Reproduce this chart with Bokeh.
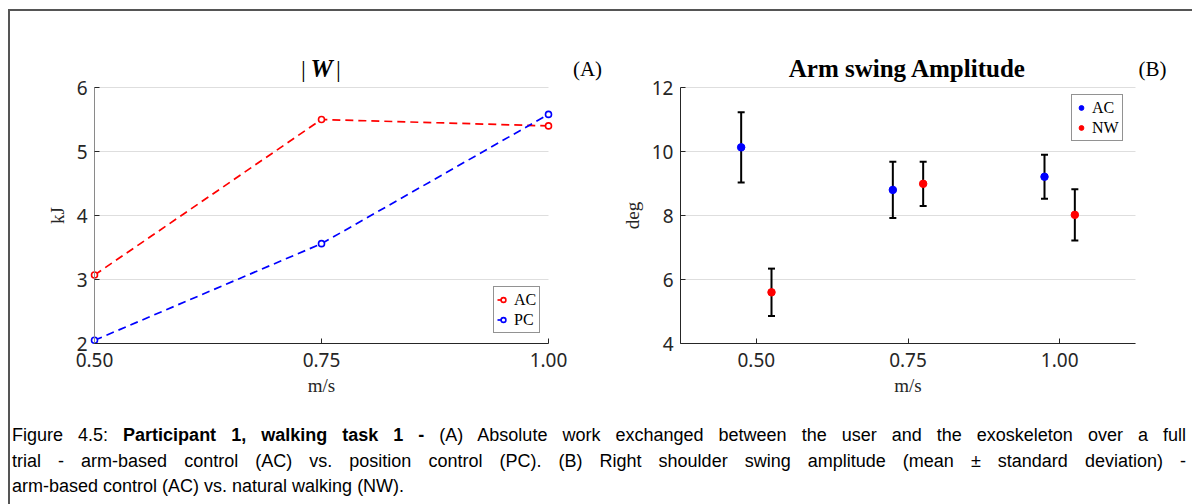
from bokeh.plotting import figure
from bokeh.layouts import row, column
from bokeh.models import (Range1d, FixedTicker, Label, Legend, LegendItem,
                          PrintfTickFormatter, Div)
from bokeh.embed import file_html
from bokeh.resources import INLINE

# ---------------- data ----------------
speeds = [0.50, 0.75, 1.00]
speed_ticks = [0.50, 0.75, 1.00]
work_ac = [3.07, 5.50, 5.40]
work_pc = [2.05, 3.56, 5.58]
work_ticks = [2, 3, 4, 5, 6]
amp_ac_mean = [10.13, 8.80, 9.21]
amp_ac_std = [1.10, 0.88, 0.69]
amp_nw_mean = [5.60, 8.99, 8.02]
amp_nw_std = [0.74, 0.69, 0.80]
amp_ticks = [4, 6, 8, 10, 12]
group_offset = 0.025

RED = "#ff0000"
BLUE = "#0000ff"
TXT = "#262626"
SERIF = "Liberation Serif"
SANS = "Noto Sans"


class Geo:
    """Maps canvas pixels <-> data so that the plot box sits where wanted."""
    def __init__(self, W, H, xv, xp, yv, yp):
        (x0, x1), (px0, px1) = xv, xp
        (ytop, ybot), (pt, pb) = yv, yp
        self.kx = (px1 - px0) / (x1 - x0)
        self.ky = (pb - pt) / (ytop - ybot)
        self.xs = x0 - px0 / self.kx
        self.xe = x1 + (W - px1) / self.kx
        self.ye = ytop + pt / self.ky
        self.ys = ybot - (H - pb) / self.ky

    def x(self, px):
        return self.xs + px / self.kx

    def y(self, py):
        return self.ye - py / self.ky


def make_fig(W, H, g, xlim, ylim, yticks, ycolor, xlabel, ylabel):
    p = figure(width=W, height=H, output_backend="svg", toolbar_location=None,
               x_range=Range1d(g.xs, g.xe), y_range=Range1d(g.ys, g.ye),
               min_border=0)
    p.grid.visible = False
    p.outline_line_color = None
    # horizontal grid lines at the y ticks, spanning the axis limits
    p.segment(x0=xlim[0], x1=xlim[1], y0=yticks, y1=yticks, line_color="#dedede",
              line_width=1, level="underlay")
    p.xaxis.ticker = FixedTicker(ticks=speed_ticks)
    p.xaxis.formatter = PrintfTickFormatter(format="%.2f")
    p.yaxis.ticker = FixedTicker(ticks=yticks)
    p.xaxis.fixed_location = ylim[0]
    p.yaxis.fixed_location = xlim[0]
    p.xaxis.bounds = xlim
    p.yaxis.bounds = ylim
    for ax in (p.xaxis[0], p.yaxis[0]):
        ax.major_tick_in = 5
        ax.major_tick_out = 0
        ax.minor_tick_line_color = None
        ax.major_tick_line_color = TXT
        ax.major_label_text_font = SANS
        ax.major_label_text_font_size = "19px"
        ax.major_label_text_color = TXT
        ax.axis_label_text_font = SERIF
        ax.axis_label_text_font_style = "normal"
        ax.axis_label_text_font_size = "19px"
        ax.axis_label_text_color = TXT
    p.xaxis.axis_line_color = TXT
    p.yaxis.axis_line_color = ycolor
    p.xaxis.major_label_standoff = 9
    p.xaxis.axis_label_standoff = 5
    p.yaxis.major_label_standoff = 7
    p.yaxis.axis_label_standoff = 6
    p.xaxis.axis_label = xlabel
    p.yaxis.axis_label = ylabel
    return p


def legend(items, loc):
    return Legend(items=items, location=loc, orientation="vertical",
                  label_text_font=SERIF, label_text_font_size="16px", label_text_color="black",
                  border_line_color=TXT, border_line_width=1, background_fill_alpha=1,
                  padding=3, spacing=1, margin=0, glyph_width=12, glyph_height=19,
                  label_height=19, label_standoff=5)


def text(p, x, y, t, size, style_="normal"):
    p.add_layout(Label(x=x, y=y, text=t, text_align="center", text_baseline="middle",
                       text_font=SERIF, text_font_size=size, text_font_style=style_,
                       text_color="black"))


# ---------------- panel A ----------------
WA, H = 600, 400
ga = Geo(WA, H, (0.5, 1.0), (84, 538), (6, 2), (76, 332))
pa = make_fig(WA, H, ga, (0.5, 1.0), (2, 6), work_ticks, "#8a8a8a", "m/s", "kJ")

l_ac = pa.line(speeds, work_ac, line_color=RED, line_width=1.7, line_dash="8 5")
s_ac = pa.scatter(speeds, work_ac, marker="circle", size=6, line_color=RED,
                  fill_color="white", line_width=1.6)
l_pc = pa.line(speeds, work_pc, line_color=BLUE, line_width=1.7, line_dash="8 5")
s_pc = pa.scatter(speeds, work_pc, marker="circle", size=6, line_color=BLUE,
                  fill_color="white", line_width=1.6)
pa.add_layout(legend([LegendItem(label="AC", renderers=[l_ac, s_ac]),
                      LegendItem(label="PC", renderers=[l_pc, s_pc])], (483, 78)))

ty = ga.y(57)
text(pa, ga.x(293), ty, "|", "24px")
text(pa, ga.x(311), ty, "W", "25px", "bold italic")
text(pa, ga.x(328), ty, "|", "24px")
text(pa, ga.x(577), ty, "(A)", "21px")

# ---------------- panel B ----------------
WB = 582
gb = Geo(WB, H, (0.375, 1.125), (70, 525), (12, 4), (76, 332))
pb = make_fig(WB, H, gb, (0.375, 1.125), (4, 12), amp_ticks, TXT, "m/s", "deg")

x_ac = [s - group_offset for s in speeds]
x_nw = [s + group_offset for s in speeds]
ac_lo = [m - s for m, s in zip(amp_ac_mean, amp_ac_std)]
ac_hi = [m + s for m, s in zip(amp_ac_mean, amp_ac_std)]
nw_lo = [m - s for m, s in zip(amp_nw_mean, amp_nw_std)]
nw_hi = [m + s for m, s in zip(amp_nw_mean, amp_nw_std)]

for xs, lo, hi in ((x_ac, ac_lo, ac_hi), (x_nw, nw_lo, nw_hi)):
    pb.segment(x0=xs, y0=lo, x1=xs, y1=hi, line_color="black", line_width=2)
    pb.scatter(xs, lo, marker="dash", size=7, line_color="black", line_width=2)
    pb.scatter(xs, hi, marker="dash", size=7, line_color="black", line_width=2)

sb_ac = pb.scatter(x_ac, amp_ac_mean, marker="circle", size=7.5, color=BLUE)
sb_nw = pb.scatter(x_nw, amp_nw_mean, marker="circle", size=7.5, color=RED)
pb.add_layout(legend([LegendItem(label="AC", renderers=[sb_ac]),
                      LegendItem(label="NW", renderers=[sb_nw])], (461, 270)))

text(pb, gb.x(297), gb.y(57), "Arm swing Amplitude", "25px", "bold")
text(pb, gb.x(542), gb.y(57), "(B)", "21px")

# ---------------- caption ----------------
just = "text-align:justify; text-align-last:justify;"
cap_html = (
    "<div style=\"font-family:'Liberation Sans', Arial, sans-serif; font-size:18px; "
    "line-height:25.5px; color:#000; padding:12px 2px 0 2px; width:1178px;\">"
    f"<div style='{just}'>Figure 4.5: <b>Participant 1, walking task 1 -</b> (A) Absolute "
    "work exchanged between the user and the exoskeleton over a full</div>"
    f"<div style='{just}'>trial - arm-based control (AC) vs. position control (PC). "
    "(B) Right shoulder swing amplitude (mean \u00b1 standard deviation) -</div>"
    "<div>arm-based control (AC) vs. natural walking (NW).</div>"
    "</div>"
)
cap = Div(text=cap_html, width=1182, height=93, margin=0)

layout = column(row(pa, pb), cap)
layout.margin = (9, 0, 0, 8)
layout.styles = {"border-left": "2px solid #555555", "border-top": "2px solid #555555"}

open("out.html", "w").write(file_html(layout, INLINE))
